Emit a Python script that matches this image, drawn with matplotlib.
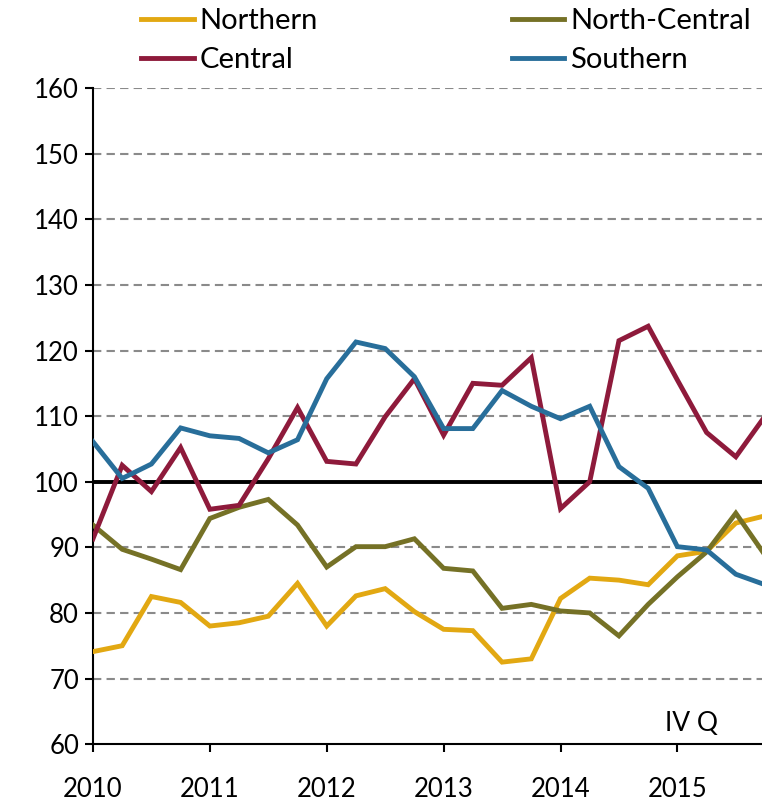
import numpy as np
import matplotlib.pyplot as plt

## quarterly index, 2010 Q1 .. 2015 Q4
quarters = np.arange(2010, 2016, 0.25)

northern = [74.1, 75.0, 82.5, 81.6, 78.0, 78.5, 79.5, 84.5,
            78.0, 82.6, 83.7, 80.2, 77.5, 77.3, 72.5, 73.0,
            82.2, 85.3, 85.0, 84.3, 88.7, 89.4, 93.7, 94.8]
north_central = [93.4, 89.7, 88.2, 86.6, 94.4, 96.1, 97.3, 93.4,
                 87.0, 90.1, 90.1, 91.3, 86.8, 86.4, 80.7, 81.3,
                 80.3, 80.0, 76.5, 81.3, 85.5, 89.3, 95.2, 88.8]
central = [91.3, 102.5, 98.5, 105.2, 95.8, 96.4, 103.5, 111.3,
           103.1, 102.7, 109.9, 115.7, 107.1, 115.0, 114.7, 118.9,
           95.9, 100.0, 121.5, 123.7, 115.5, 107.5, 103.8, 110.0]
southern = [106.1, 100.5, 102.7, 108.2, 107.0, 106.6, 104.4, 106.4,
            115.7, 121.3, 120.3, 116.0, 108.1, 108.1, 113.9, 111.5,
            109.6, 111.5, 102.3, 99.0, 90.1, 89.6, 85.9, 84.3]

series_names = ['Northern', 'North-Central', 'Central', 'Southern']
colors = ['#E2A812', '#757126', '#8E1A3B', '#286E9A']

year_ticks = [2010, 2011, 2012, 2013, 2014, 2015]
y_ticks = np.arange(60, 161, 10)

plt.rcParams['font.family'] = ['Lato', 'DejaVu Sans']

fig = plt.figure(figsize=(7.62, 8.01), dpi=100)
ax = fig.add_axes([0.122, 0.071, 0.882, 0.819])

# grid lines
for yv in y_ticks:
    if yv in (60, 100):
        continue
    ax.axhline(yv, color='#8a8a8a', lw=1.5, ls=(0, (4, 2.5)), zorder=1)
ax.axhline(100, color='black', lw=2.8, zorder=2)

lines = []
for data, name, c in zip([northern, north_central, central, southern], series_names, colors):
    ln, = ax.plot(quarters, data, color=c, lw=3.5, label=name, zorder=3,
                  solid_joinstyle='miter')
    lines.append(ln)

ax.set_xlim(2010, 2015.75)
ax.set_ylim(60, 160)
ax.set_xticks(year_ticks)
ax.set_xticklabels([str(y) for y in year_ticks])
ax.set_yticks(y_ticks)
ax.tick_params(axis='both', labelsize=18.5, length=6, width=1.5, direction='out', colors='black')
ax.tick_params(axis='x', pad=18)
ax.tick_params(axis='y', pad=4)

for s in ['top', 'right']:
    ax.spines[s].set_visible(False)
for s in ['left', 'bottom']:
    ax.spines[s].set_linewidth(1.5)

ax.text(0.93, 0.032, 'IV Q', transform=ax.transAxes, ha='right', va='center', fontsize=19)

# legend: two rows, two columns
order = [0, 2, 1, 3]
fig.legend([lines[i] for i in order], [series_names[i] for i in order],
           loc='upper left', bbox_to_anchor=(141 / 762, 1 - 8 / 801), ncol=2, frameon=False,
           fontsize=21, handlelength=1.8, handletextpad=0.2, columnspacing=6.65,
           labelspacing=0.44, borderpad=0, borderaxespad=0)

plt.savefig('out.png', dpi=100)
